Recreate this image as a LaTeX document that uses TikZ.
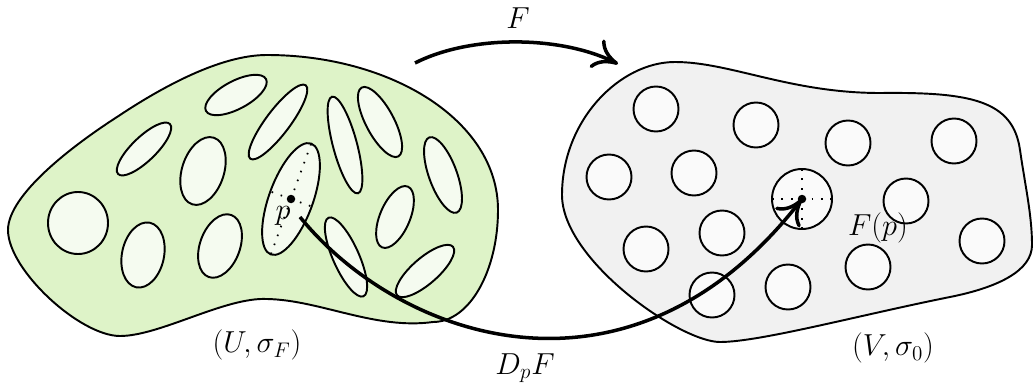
\documentclass[tikz,border=0pt]{standalone}
\usetikzlibrary{calc}
\usetikzlibrary{arrows.meta}
\usepackage{xcolor}
\usepackage{amsmath}
\definecolor{leafgreen}{RGB}{222,243,200}
\definecolor{paleleaf}{RGB}{245,251,240}
\definecolor{mist}{RGB}{241,241,241}
\definecolor{snow}{RGB}{250,250,250}

\begin{document}
\begin{tikzpicture}[x=0.02cm, y=-0.02cm, lbl/.style={font=\fontsize{17}{20}\selectfont}, dotpt/.style={circle, fill=black, inner sep=0, minimum size=0.17cm}, sparse/.style={line width=1pt, dash pattern=on 0.9pt off 4.5pt}, >={To[length=14pt, width=18pt]}]
\useasboundingbox (0,0) rectangle (1033,385);
% the domain U
\draw[fill=leafgreen, line width=1.1pt] (8,230) .. controls (8,195) and (72,146) .. (117,117)
 .. controls (180,75) and (230,55) .. (267,55)
 .. controls (390,55) and (498,120) .. (498,210)
 .. controls (498,270) and (470,322) .. (433,322)
 .. controls (375,330) and (320,300) .. (267,299)
 .. controls (225,297) and (160,336) .. (120,336)
 .. controls (80,336) and (8,270) .. (8,230) -- cycle;
\foreach \cx/\cy/\a/\b/\r in {78/223/30/31/0, 143/255/21/33/-12, 220/246/20/33/-20, 203/171/21/35/-18, 144/149/36/12/44, 236/95/34/14/28, 278/122/46/12/53, 345/145/50/12/105, 380/122/39/14/118, 443/175/40/14/110, 395/217/33/15/67, 346/257/43/13/114, 425/271/37/13/41} {
 \draw[fill=paleleaf, line width=1.1pt, shift={(\cx,\cy)}, rotate=\r] (0,0) ellipse [x radius=\a, y radius=\b];
}
\begin{scope}[shift={(291,199)}, rotate=70]
 \draw[fill=paleleaf, line width=1.1pt] (0,0) ellipse [x radius=59, y radius=22];
 \foreach \dx/\dy in {59/0, -59/0, 0/22, 0/-22}
  \draw[sparse] (0,0)--(\dx,\dy);
\end{scope}
% the target V
\draw[fill=mist, line width=1.1pt] (562,195) .. controls (562,120) and (620,62) .. (675,62)
 .. controls (730,62) and (790,93) .. (880,93)
 .. controls (970,92) and (1013,100) .. (1020,150)
 .. controls (1025,185) and (1032,215) .. (1032,245)
 .. controls (1032,270) and (1000,287) .. (950,297)
 .. controls (860,315) and (760,342) .. (720,342)
 .. controls (680,342) and (562,260) .. (562,195) -- cycle;
\foreach \cx/\cy in {656/109, 756/125, 848/143, 954/141, 609/177, 694/173, 906/201, 646/249, 722/233, 982/241, 868/267, 788/287, 712/295} {
 \draw[fill=snow, line width=1.1pt] (\cx,\cy) circle (22.5);
}
\draw[fill=snow, line width=1.1pt] (802,199) circle (30);
\foreach \dx/\dy in {30/0, -30/0, 0/30, 0/-30}
 \draw[sparse] (802,199)--++(\dx,\dy);
% points and labels
\node[dotpt] (pdot) at (291,199) {};
\node[dotpt] (fpdot) at (802,199) {};
\node[lbl] (plab) at (283,216) {$p$};
\node[lbl] (fplab) at (878,228) {$F(p)$};
\node[lbl] (ulab) at (257,345) {$(U,\sigma_F)$};
\node[lbl] (vlab) at (893,348) {$(V,\sigma_0)$};
\node[lbl] (flab) at (518,18) {$F$};
\node[lbl] (dlab) at (525,368) {$D_pF$};
\coordinate (fstart) at (415,63);
\coordinate (fend) at (618,64);
\coordinate (dstart) at (300,217);
\draw[line width=2pt, ->] (fstart) .. controls (470,35) and (560,35) .. (fend);
\draw[line width=2pt, ->] (dstart) .. controls (400,340) and (630,420) .. (fpdot.center);
\end{tikzpicture}
\end{document}
